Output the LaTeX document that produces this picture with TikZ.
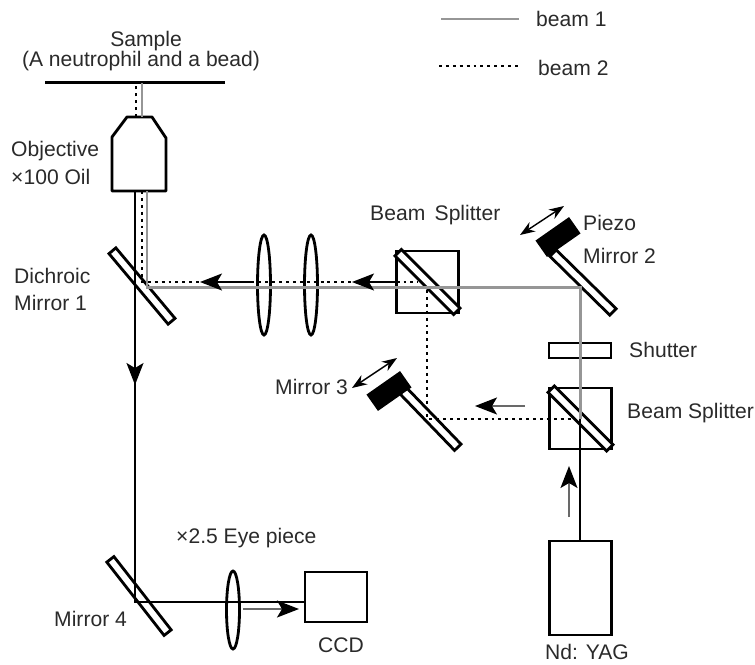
\documentclass[tikz,border=0pt]{standalone}
\usepackage{fontspec}
\setmainfont{Liberation Sans}
\usetikzlibrary{arrows.meta,shapes.geometric}
\def\px{0.03cm}
\definecolor{beamgray}{HTML}{969696}
\definecolor{labelgray}{HTML}{2A2A2A}
\tikzset{
    optic/.style={draw,line width=2.4pt,inner sep=0pt,fill=white},
    boxpart/.style={optic,rectangle,minimum width=62*\px,minimum height=#1*\px},
    lenspart/.style={optic,ellipse,minimum width=13*\px,minimum height=#1*\px,fill=none},
    mirrorbar/.style={optic,rectangle,minimum width=#1*\px,minimum height=9*\px},
    mirrorblock/.style={fill=black,inner sep=0pt,rectangle,minimum width=41*\px,minimum height=20*\px},
    beamone/.style={beamgray,line width=2.55pt},
    beamtwo/.style={black,line width=2.5pt,dash pattern=on 2.5pt off 3.4pt},
    beamcam/.style={black,line width=2.4pt},
    flowmark/.style={line width=1.2pt,-{Stealth[length=22*\px,width=17*\px,inset=5*\px]}},
    flowgray/.style={line width=1.4pt,beamgray!70!black,-{Stealth[length=22*\px,width=17*\px,inset=5*\px,black]}},
    travelmark/.style={line width=1.2pt,{Stealth[length=15*\px,width=11*\px]}-{Stealth[length=15*\px,width=11*\px]}},
    lbl/.style={font=\fontsize{18pt}{21pt}\selectfont,text=labelgray,inner sep=0pt,anchor=west}
}
\begin{document}
\begin{tikzpicture}[x=0.03cm,y=-0.03cm]
    \useasboundingbox (0,0) rectangle (755,664);
    %% sample and objective
    \coordinate (sampleL) at (45,82.5);
    \coordinate (sampleR) at (225,82.5);
    \draw[line width=2.4pt] (sampleL) -- (sampleR);
    \draw[line width=2.4pt,line join=round] (127,117) -- (152,117) -- (166,138) -- (166,191)
        -- (112,191) -- (112,137) -- cycle;
    %% mirrors
    \node[mirrorbar=92,rotate=-50] (mirrorA) at (142,286) {};
    \node[mirrorbar=84,rotate=-44.5] (mirrorB) at (583,282.5) {};
    \node[mirrorbar=80,rotate=-46] (mirrorC) at (430,418.5) {};
    \node[mirrorbar=93,rotate=-52] (mirrorD) at (139,596) {};
    \node[mirrorblock,rotate=35] (piezoB) at (558,237) {};
    \node[mirrorblock,rotate=35] (piezoC) at (389,391) {};
    %% beam splitters
    \node[boxpart=62] (splitA) at (427.5,282) {};
    \node[boxpart=61] (splitB) at (580.5,418.5) {};
    \node[mirrorbar=83,rotate=-45] (coatA) at (427.5,282) {};
    \node[mirrorbar=83,rotate=-45] (coatB) at (580.5,418.5) {};
    %% shutter, lenses, laser, camera
    \node[boxpart=15] (shutter) at (580,350.5) {};
    \foreach \x/\n in {264/lensA,311/lensB}
        \node[lenspart=100] (\n) at (\x,285) {};
    \node[lenspart=78] (lensC) at (233,610) {};
    \node[boxpart=94] (yag) at (580.5,588) {};
    \node[boxpart=50] (ccd) at (336,597) {};
    %% beam 1
    \coordinate (hitA) at (147,287);
    \coordinate (hitB) at (580,287);
    \coordinate (hitC) at (580,419);
    \coordinate (objA) at (147,191);
    \coordinate (topA) at (142,117);
    \coordinate (topB) at (142,83);
    \draw[beamone] (topA) -- (topB);
    \draw[beamone] (objA) -- (hitA) -- (hitB) -- (hitC);
    %% beam 2
    \coordinate (dotA) at (142,282);
    \coordinate (dotB) at (142,191);
    \coordinate (dotC) at (136,117);
    \coordinate (dotD) at (136,85);
    \coordinate (dotE) at (418,282);
    \coordinate (dotF) at (427,290);
    \coordinate (dotG) at (427,419);
    \coordinate (dotH) at (575,419);
    \draw[beamtwo] (dotC) -- (dotD);
    \draw[beamtwo] (dotB) -- (dotA) -- (dotE);
    \draw[beamtwo] (dotF) -- (dotG) -- (dotH);
    %% camera path and laser
    \coordinate (camA) at (135,191);
    \coordinate (camB) at (135,602);
    \coordinate (camC) at (305,602);
    \coordinate (yagA) at (580,541);
    \coordinate (yagB) at (580,419);
    \draw[beamcam] (camA) -- (camB) -- (camC);
    \draw[beamcam] (yagA) -- (yagB);
    %% direction arrows
    \draw[flowmark] (253,282) -- (200,282);
    \draw[flowmark] (396,282) -- (352,282);
    \draw[flowgray] (525,406) -- (475,406);
    \draw[flowmark] (135,350) -- (135,385);
    \draw[flowgray] (243,609) -- (299,609);
    \draw[flowgray] (569,517) -- (569,466);
    \draw[travelmark] (520,235) -- (564,206);
    \draw[travelmark] (352,388) -- (397,358);
    %% labels
    \node[lbl,anchor=center] (sampleT) at (146,41) {Sample};
    \node[lbl,anchor=center] (sampleS) at (141,61.5) {(A neutrophil and a bead)};
    \node[lbl] (objT) at (11,151) {Objective};
    \node[lbl] (objS) at (11,177) {×100 Oil};
    \node[lbl] (dichT) at (14,276) {Dichroic};
    \node[lbl] (dichS) at (14,303) {Mirror 1};
    \node[lbl] (splitAT) at (370,215) {Beam\, Splitter};
    \node[lbl] (splitBT) at (627,413) {Beam Splitter};
    \node[lbl] (piezoT) at (583,223) {Piezo};
    \node[lbl] (mirrorBT) at (583,256) {Mirror 2};
    \node[lbl] (shutterT) at (629,350) {Shutter};
    \node[lbl] (mirrorCT) at (275,387) {Mirror 3};
    \node[lbl] (mirrorDT) at (54,619) {Mirror 4};
    \node[lbl] (eyeT) at (176,538) {×2.5 Eye piece};
    \node[lbl,anchor=center] (ccdT) at (341,645) {CCD};
    \node[lbl,anchor=center] (yagT) at (587,652) {Nd: YAG};
    %% legend
    \coordinate (keyA) at (441,19);
    \coordinate (keyB) at (519,19);
    \coordinate (keyC) at (439,66);
    \coordinate (keyD) at (521,66);
    \draw[beamone] (keyA) -- (keyB);
    \draw[beamtwo,line width=1.9pt] (keyC) -- (keyD);
    \node[lbl] (keyAT) at (536,19) {beam 1};
    \node[lbl] (keyBT) at (538,68) {beam 2};
\end{tikzpicture}
\end{document}
